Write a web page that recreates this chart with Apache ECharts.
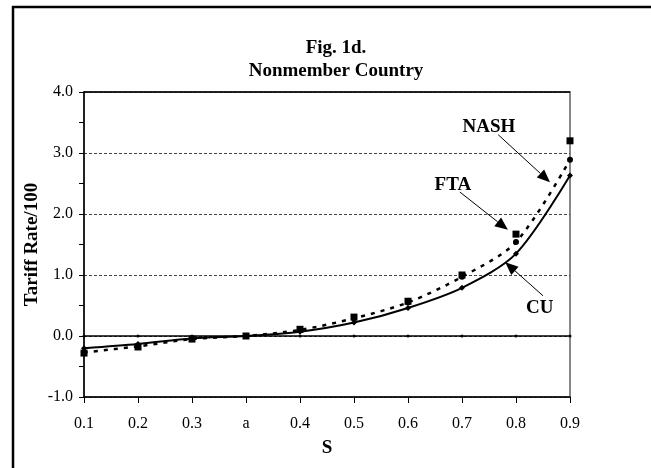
<!DOCTYPE html>
<html>
<head>
<meta charset="utf-8">
<script src="https://cdn.jsdelivr.net/npm/echarts@6/dist/echarts.min.js"></script>
<style>
  html, body { margin: 0; padding: 0; background: #fff; }
  #chart { width: 651px; height: 468px; }
</style>
</head>
<body>
<div id="chart"></div>
<script>
const categories = ['0.1', '0.2', '0.3', 'a', '0.4', '0.5', '0.6', '0.7', '0.8', '0.9'];
const cuValues   = [-0.20, -0.13, -0.04, 0, 0.07, 0.22, 0.46, 0.79, 1.35, 2.63];
const ftaValues  = [-0.28, -0.18, -0.05, 0, 0.11, 0.31, 0.57, 1.00, 1.67, 3.20];
const nashValues = [-0.27, -0.17, -0.05, 0, 0.10, 0.29, 0.55, 0.97, 1.54, 2.89];
const zeroValues = [0, 0, 0, 0, 0, 0, 0, 0, 0, 0];

// callouts: [label, text pos, arrow start, arrow tip] in (category index, value)
const callouts = [
  ['NASH', [7.50, 3.43], [7.67, 3.30], [8.63, 2.52]],
  ['FTA',  [6.83, 2.48], [6.96, 2.36], [7.85, 1.74]],
  ['CU',   [8.44, 0.46], [8.50, 0.66], [7.80, 1.21]]
];

const serif = 'Liberation Serif';
const chart = echarts.init(document.getElementById('chart'));

const option = {
  animation: false,
  backgroundColor: '#fff',
  title: {
    text: 'Fig. 1d.\nNonmember Country',
    left: 331,
    textAlign: 'center',
    top: 32,
    textStyle: { fontFamily: serif, fontSize: 19, fontWeight: 'bold', color: '#000', lineHeight: 23 }
  },
  grid: { left: 84, right: 81, top: 92, bottom: 71, show: true, borderColor: '#888', borderWidth: 2 },
  xAxis: {
    type: 'category',
    data: categories,
    boundaryGap: false,
    name: 'S',
    nameLocation: 'middle',
    nameGap: 42,
    nameMoveOverlap: false,
    nameTextStyle: { fontFamily: serif, fontSize: 19, fontWeight: 'bold', color: '#000' },
    axisLine: { onZero: false, lineStyle: { color: '#000', width: 1.5 } },
    axisTick: { interval: 0, length: 6, lineStyle: { color: '#000' } },
    axisLabel: { interval: 0, margin: 19, fontFamily: serif, fontSize: 16, color: '#000' },
    splitLine: { show: false }
  },
  yAxis: {
    type: 'value',
    min: -1,
    max: 4,
    interval: 1,
    name: 'Tariff Rate/100',
    nameLocation: 'middle',
    nameGap: 42,
    nameMoveOverlap: false,
    nameTextStyle: { fontFamily: serif, fontSize: 19, fontWeight: 'bold', color: '#000' },
    axisLine: { show: true, lineStyle: { color: '#000', width: 1.5 } },
    axisTick: { show: true, length: 5, lineStyle: { color: '#000' } },
    minorTick: { show: true, splitNumber: 2, length: 5, lineStyle: { color: '#000' } },
    axisLabel: {
      margin: 11, fontFamily: serif, fontSize: 16, color: '#000',
      formatter: v => v.toFixed(1)
    },
    splitLine: { show: true, lineStyle: { color: '#444', width: 1, type: [3, 2] } }
  },
  series: [
    {
      name: 'zero',
      type: 'line',
      data: zeroValues,
      symbol: 'circle',
      symbolSize: 3,
      itemStyle: { color: '#000' },
      lineStyle: { color: '#000', width: 1.5 },
      markLine: {
        silent: true,
        symbol: 'none',
        label: { show: false },
        lineStyle: { color: '#000', width: 1.5, type: 'solid' },
        data: [{ yAxis: 4 }]
      }
    },
    {
      name: 'CU',
      type: 'line',
      data: cuValues,
      smooth: 0.3,
      symbol: 'diamond',
      symbolSize: 6,
      itemStyle: { color: '#000' },
      lineStyle: { color: '#000', width: 2 }
    },
    {
      name: 'NASH',
      type: 'line',
      data: nashValues,
      smooth: 0.3,
      symbol: 'circle',
      symbolSize: 6,
      itemStyle: { color: '#000' },
      lineStyle: { color: '#000', width: 2.5, type: [4, 6] }
    },
    {
      name: 'FTA',
      type: 'line',
      data: ftaValues,
      symbol: 'rect',
      symbolSize: 7,
      itemStyle: { color: '#000' },
      lineStyle: { opacity: 0 }
    }
  ]
};

chart.setOption(option);

// category axis rounds fractional indices, so interpolate between neighbours
function toPx(idx, val) {
  const i0 = Math.floor(idx);
  const p0 = chart.convertToPixel({ gridIndex: 0 }, [i0, val]);
  const p1 = chart.convertToPixel({ gridIndex: 0 }, [i0 + 1, val]);
  return [p0[0] + (idx - i0) * (p1[0] - p0[0]), p0[1]];
}

const graphics = [
  // outer frame (top and left edges)
  { type: 'line', shape: { x1: 12, y1: 7, x2: 651, y2: 7 }, style: { stroke: '#000', lineWidth: 2.5 } },
  { type: 'line', shape: { x1: 13, y1: 6, x2: 13, y2: 468 }, style: { stroke: '#000', lineWidth: 2.5 } }
];

callouts.forEach(([label, tp, from, tip]) => {
  const t = toPx(tp[0], tp[1]);
  const a = toPx(from[0], from[1]);
  const b = toPx(tip[0], tip[1]);
  const dx = b[0] - a[0], dy = b[1] - a[1];
  const len = Math.hypot(dx, dy);
  const ux = dx / len, uy = dy / len;
  const hl = 13, hw = 5.5;
  const bx = b[0] - ux * hl, by = b[1] - uy * hl;
  graphics.push({
    type: 'line',
    shape: { x1: a[0], y1: a[1], x2: bx, y2: by },
    style: { stroke: '#000', lineWidth: 1 }
  });
  graphics.push({
    type: 'polygon',
    shape: { points: [b, [bx - uy * hw, by + ux * hw], [bx + uy * hw, by - ux * hw]] },
    style: { fill: '#000' }
  });
  graphics.push({
    type: 'text',
    x: t[0], y: t[1],
    style: {
      text: label, fontFamily: serif, fontSize: 19, fontWeight: 'bold', fill: '#000',
      align: 'center', verticalAlign: 'middle'
    }
  });
});

chart.setOption({ graphic: graphics });
</script>
</body>
</html>
